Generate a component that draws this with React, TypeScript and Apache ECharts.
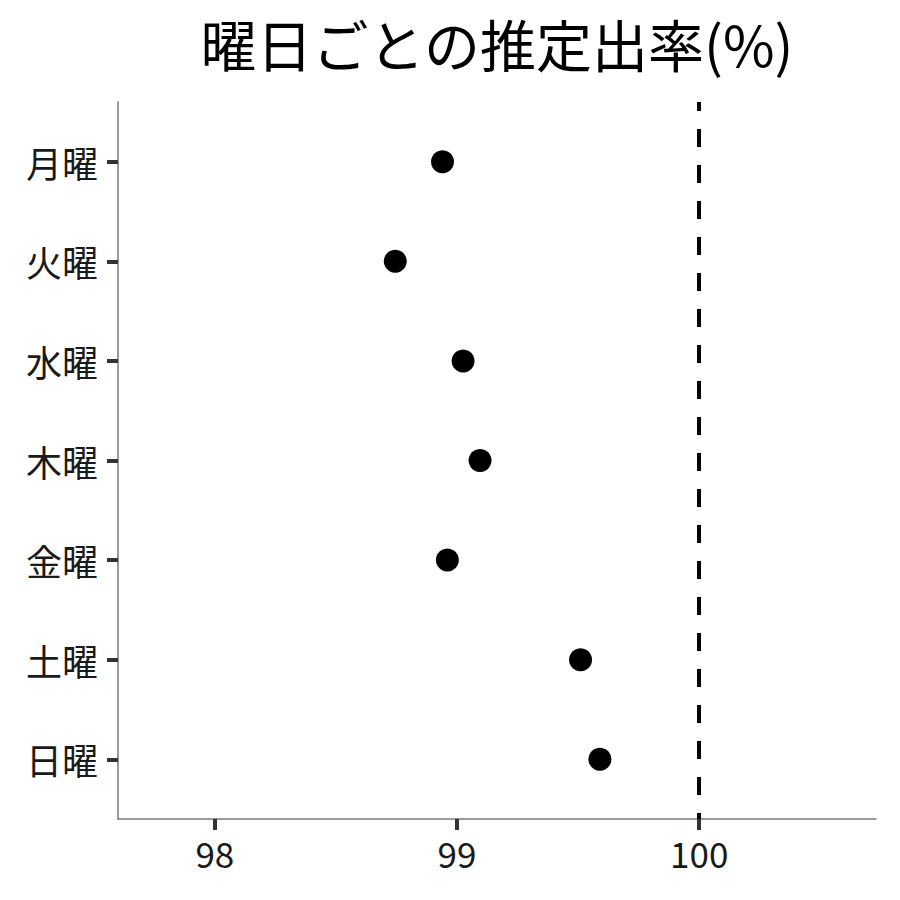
import React, { useEffect, useRef } from "react";
import * as echarts from "echarts";

const days = ["月曜", "火曜", "水曜", "木曜", "金曜", "土曜", "日曜"];
const rates = [98.94, 98.745, 99.025, 99.095, 98.96, 99.51, 99.59];
const xTicks = [98, 99, 100];
const refLine = 100;
const titleText = "曜日ごとの推定出率(%)";

const FONT = "Noto Sans CJK JP";

export default function App() {
  const ref = useRef<HTMLDivElement>(null);
  useEffect(() => {
    const chart = echarts.init(ref.current!, null, { renderer: "svg" });
    const yIdx = days.map((_, i) => i + 1);
    chart.setOption({
      animation: false,
      backgroundColor: "#ffffff",
      title: {
        text: titleText,
        left: 497,
        textAlign: "center",
        top: 6,
        padding: 0,
        textStyle: { fontFamily: FONT, fontSize: 56, lineHeight: 72, fontWeight: "normal", color: "#000" },
      },
      grid: { left: 118, right: 24, top: 102, bottom: 81 },
      xAxis: {
        type: "value",
        min: 97.6,
        max: 100.73,
        splitLine: { show: false },
        axisLine: { show: true, lineStyle: { color: "#7a7a7a", width: 1.5 } },
        axisTick: { show: true, customValues: xTicks, length: 11, lineStyle: { color: "#333", width: 4 } },
        axisLabel: {
          customValues: xTicks,
          margin: 16,
          fontFamily: FONT,
          fontSize: 35,
          color: "#1a1a1a",
          formatter: (v: number) => String(v),
        },
      },
      yAxis: {
        type: "value",
        inverse: true,
        min: 0.4,
        max: 7.6,
        splitLine: { show: false },
        axisLine: { show: true, lineStyle: { color: "#7a7a7a", width: 1.5 } },
        axisTick: { show: true, customValues: yIdx, length: 11, lineStyle: { color: "#333", width: 4 } },
        axisLabel: {
          customValues: yIdx,
          margin: 20,
          fontFamily: FONT,
          fontSize: 36,
          color: "#1a1a1a",
          formatter: (v: number) => days[Math.round(v) - 1] ?? "",
        },
      },
      series: [
        {
          type: "scatter",
          data: rates.map((r, i) => [r, i + 1]),
          symbol: "circle",
          symbolSize: 23,
          itemStyle: { color: "#000", opacity: 1 },
          markLine: {
            silent: true,
            symbol: "none",
            label: { show: false },
            lineStyle: { color: "#000", width: 4, type: [18, 18], dashOffset: 9, opacity: 1 },
            data: [{ xAxis: refLine }],
          },
        },
      ],
    });
    return () => chart.dispose();
  }, []);
  return <div ref={ref} style={{ position: "fixed", left: 0, top: 0, width: 900, height: 900 }} />;
}
